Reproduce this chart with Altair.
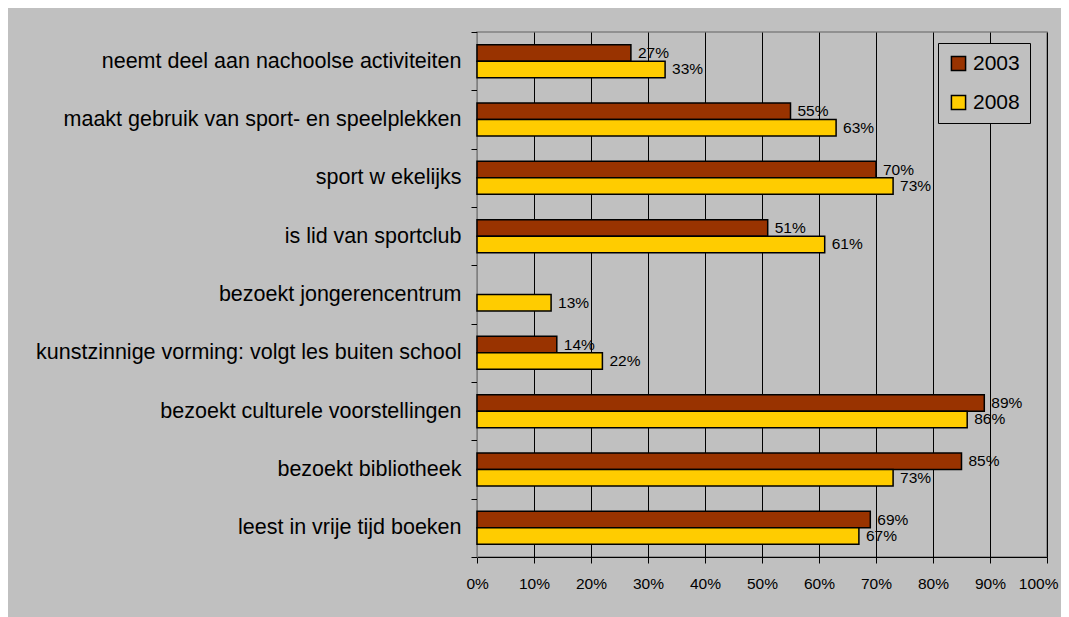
import altair as alt
import pandas as pd

categories = [
    "neemt deel aan nachoolse activiteiten",
    "maakt gebruik van sport- en speelplekken",
    "sport w ekelijks",
    "is lid van sportclub",
    "bezoekt jongerencentrum",
    "kunstzinnige vorming: volgt les buiten school",
    "bezoekt culturele voorstellingen",
    "bezoekt bibliotheek",
    "leest in vrije tijd boeken",
]
years = ["2003", "2008"]
v2003 = [27, 55, 70, 51, None, 14, 89, 85, 69]
v2008 = [33, 63, 73, 61, 13, 22, 86, 73, 67]
colors = ["#993300", "#FFCC00"]
x_ticks = [0, 10, 20, 30, 40, 50, 60, 70, 80, 90, 100]

rows = []
for c, a, b in zip(categories, v2003, v2008):
    if a is not None:
        rows.append({"cat": c, "year": "2003", "v": a})
    if b is not None:
        rows.append({"cat": c, "year": "2008", "v": b})
df = pd.DataFrame(rows)
df["label"] = df["v"].astype(int).astype(str) + "%"

FONT = "Liberation Sans"

y_enc = alt.Y(
    "cat:N",
    sort=categories,
    scale=alt.Scale(paddingInner=0, paddingOuter=0),
    axis=alt.Axis(
        title=None,
        tickBand="extent",
        ticks=True,
        tickSize=6,
        tickColor="black",
        domainColor="#808080",
        labelFontSize=21.5,
        labelFont=FONT,
        labelColor="black",
        labelPadding=10,
        labelLimit=600,
        grid=False,
    ),
)
yoff_enc = alt.YOffset(
    "year:N", sort=years, scale=alt.Scale(paddingInner=0, paddingOuter=0.77)
)
x_enc = alt.X(
    "v:Q",
    scale=alt.Scale(domain=[0, 100], nice=False),
    axis=alt.Axis(
        title=None,
        values=x_ticks,
        labelExpr="datum.value + '%'",
        labelFlush=True,
        labelFlushOffset=11,
        labelOverlap=False,
        grid=True,
        gridColor="black",
        gridWidth=1,
        gridOpacity=1,
        domainColor="black",
        tickColor="black",
        tickSize=6,
        labelFontSize=15.5,
        labelFont=FONT,
        labelColor="black",
        labelPadding=13,
    ),
)

bars = alt.Chart(df).mark_bar(stroke="black", strokeWidth=1.5).encode(
    x=x_enc,
    y=y_enc,
    yOffset=yoff_enc,
    color=alt.Color(
        "year:N",
        sort=years,
        scale=alt.Scale(domain=years, range=colors),
        legend=alt.Legend(
            title=None,
            orient="none",
            legendX=461,
            legendY=11,
            symbolType="square",
            symbolSize=200,
            symbolStrokeColor="black",
            symbolStrokeWidth=1.5,
            labelFontSize=21,
            labelFont=FONT,
            labelColor="black",
            rowPadding=17,
            padding=10,
            strokeColor="black",
            fillColor="#C0C0C0",
        ),
    ),
)

texts = alt.Chart(df).mark_text(
    align="left", baseline="middle", dx=7, fontSize=15.5, font=FONT, color="black"
).encode(
    x="v:Q",
    y=alt.Y("cat:N", sort=categories),
    yOffset=alt.YOffset("year:N", sort=years),
    text="label:N",
)

chart = (
    alt.layer(bars, texts)
    .properties(
        width=570,
        height=525,
        background="#C0C0C0",
        padding={"left": 469, "top": 24, "right": 14, "bottom": 60},
        autosize=alt.AutoSizeParams(type="none"),
    )
    .configure_view(fill="#C0C0C0", stroke="#808080", strokeWidth=1.5)
)

chart.save("out.html", embed_options={"renderer": "svg", "actions": False})
